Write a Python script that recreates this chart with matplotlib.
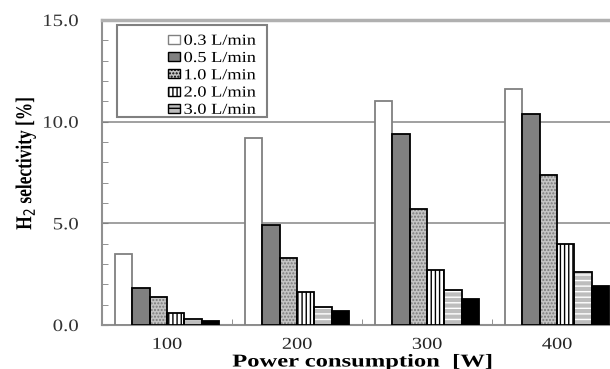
import matplotlib.pyplot as plt
import numpy as np
from matplotlib.patches import Patch, Rectangle
from matplotlib.patheffects import AbstractPathEffect
from matplotlib.transforms import Affine2D
from matplotlib.ticker import MultipleLocator, FormatStrFormatter

# H2 selectivity data
power = ['100', '200', '300', '400']
flow_labels = ['0.3 L/min', '0.5 L/min', '1.0 L/min', '2.0 L/min', '3.0 L/min']
sel_03 = [3.5, 9.2, 11.0, 11.6]
sel_05 = [1.8, 4.9, 9.4, 10.4]
sel_10 = [1.4, 3.3, 5.7, 7.4]
sel_20 = [0.6, 1.6, 2.7, 4.0]
sel_30 = [0.3, 0.9, 1.7, 2.6]
sel_40 = [0.2, 0.7, 1.3, 1.9]
series = [sel_03, sel_05, sel_10, sel_20, sel_30, sel_40]

# face, hatch, hatch colour, edge
styles = [('white', None, 'white', '#808080'),
          ('#808080', None, '#808080', 'black'),
          ('#c4c4c4', '.....', '#7a7a7a', 'black'),
          ('white', '||||', 'black', 'black'),
          ('#bdbdbd', '---', 'white', 'black'),
          ('black', None, 'black', 'black')]


class Stretch(AbstractPathEffect):
    # the original text looks horizontally stretched, widen the glyphs
    def __init__(self, sx=1.0, sy=1.0, anchor='center'):
        super().__init__()
        self.sx, self.sy, self.anchor = sx, sy, anchor

    def draw_path(self, renderer, gc, tpath, affine, rgbFace=None):
        ext = tpath.get_extents()
        x0 = {'left': ext.x0, 'center': (ext.x0 + ext.x1) / 2, 'right': ext.x1}[self.anchor]
        y0 = (ext.y0 + ext.y1) / 2
        t = Affine2D().translate(-x0, -y0).scale(self.sx, self.sy).translate(x0, y0)
        renderer.draw_path(gc, tpath, t + affine, rgbFace)


plt.rcParams['font.family'] = 'serif'
plt.rcParams['font.serif'] = ['Liberation Serif']
plt.rcParams['hatch.linewidth'] = 1.0

W, H = 610, 369
fig = plt.figure(figsize=(W / 100, H / 100), dpi=100, facecolor='white')
ax = fig.add_axes([102 / W, 44 / H, 520 / W, 305 / H])

x = np.arange(len(power))
width = 0.8 / len(series)
for i, vals in enumerate(series):
    face, hatch, hcol, edge = styles[i]
    pos = x - 0.4 + width * (i + 0.5)
    ax.bar(pos, vals, width, color=face, edgecolor=hcol, hatch=hatch, linewidth=0, zorder=3)
    ax.bar(pos, vals, width, fill=False, edgecolor=edge, linewidth=1.3, zorder=4)

ax.set_xlim(-0.5, 3.5)
ax.set_ylim(0, 15)

# Grid and ticks
ax.yaxis.set_major_locator(MultipleLocator(5))
ax.yaxis.set_minor_locator(MultipleLocator(1))
ax.yaxis.set_major_formatter(FormatStrFormatter('%.1f'))
ax.grid(axis='y', which='major', color='#909090', linewidth=1.2, zorder=0)
ax.set_xticks(x)
ax.set_xticklabels(power)
ax.set_xticks([0.5, 1.5, 2.5], minor=True)

ax.tick_params(axis='y', which='both', direction='in', length=4, color='#808080',
               labelsize=12.5, pad=17, labelcolor='#333333')
ax.tick_params(axis='x', which='major', length=0, labelsize=12, pad=8.5, labelcolor='#222222')
ax.tick_params(axis='x', which='minor', direction='in', length=4, color='#808080')
for t in ax.get_yticklabels():
    t.set_path_effects([Stretch(1.2, anchor='right')])
for t in ax.get_xticklabels():
    t.set_path_effects([Stretch(1.22)])

for s in ['left', 'bottom']:
    ax.spines[s].set_color('#909090')
    ax.spines[s].set_linewidth(1.5)
ax.spines['top'].set_color('#b0b0b0')
ax.spines['top'].set_linewidth(2.5)
ax.spines['right'].set_visible(False)

# Labels
fig.text(362 / W, 1 - 366.5 / H, 'Power consumption  [W]', fontsize=13, fontweight='bold',
         ha='center', va='baseline', path_effects=[Stretch(1.36)])
fig.text(26 / W, 1 - 163 / H, 'H$_2$ selectivity [%]', fontsize=12.5, fontweight='bold',
         rotation=90, ha='center', va='center', path_effects=[Stretch(1.0, 1.3)])

# Legend
handles = [Patch(facecolor=styles[i][0], edgecolor=styles[i][3], hatch=styles[i][1], linewidth=1)
           for i in range(len(flow_labels))]
leg = fig.legend(handles, flow_labels, loc='upper left',
                 bbox_to_anchor=(157 / W, 1 - 24 / H), bbox_transform=fig.transFigure,
                 frameon=False, fontsize=11, handlelength=0.8, handleheight=0.55,
                 handletextpad=0.25, labelspacing=0.28, borderpad=0.2)
for t in leg.get_texts():
    t.set_path_effects([Stretch(1.2, anchor='left')])
fig.patches.append(Rectangle((117 / W, 1 - 117 / H), 150 / W, 92 / H,
                             transform=fig.transFigure, fill=False,
                             edgecolor='#808080', linewidth=1.5))

plt.savefig('out.png', dpi=100, facecolor='white')
